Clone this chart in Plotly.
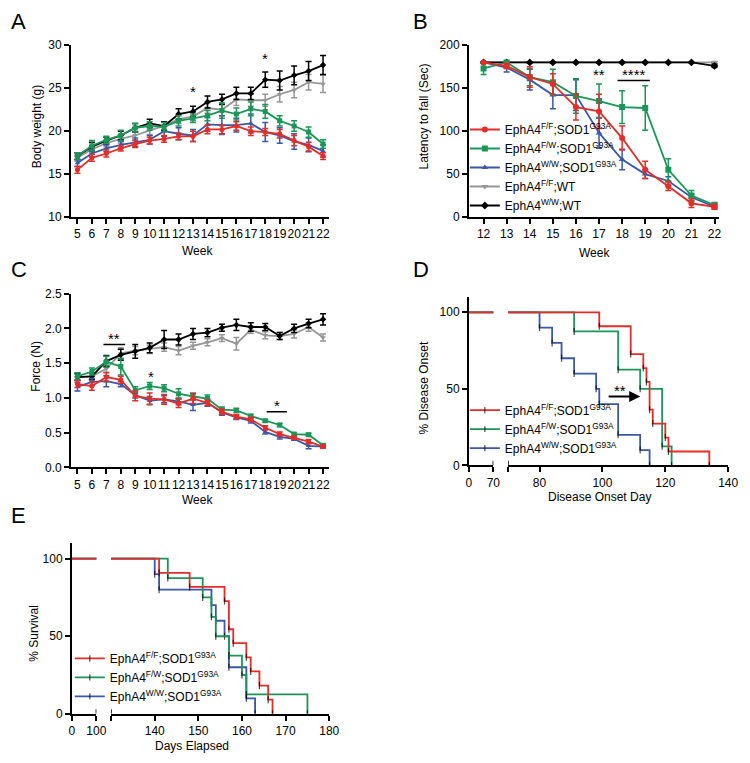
import plotly.graph_objects as go

W, H = 750, 763

# ---------------- DATA ----------------
weeks_ac = list(range(5, 23))
weeks_b = list(range(12, 23))

name_ff = "EphA4<sup>F/F</sup>;SOD1<sup>G93A</sup>"
name_fw = "EphA4<sup>F/W</sup>;SOD1<sup>G93A</sup>"
name_ww = "EphA4<sup>W/W</sup>;SOD1<sup>G93A</sup>"
name_ff_wt = "EphA4<sup>F/F</sup>;WT"
name_ww_wt = "EphA4<sup>W/W</sup>;WT"

# Panel A - body weight (g)
bw_ff = [15.5, 16.9, 17.4, 18.0, 18.5, 18.9, 19.1, 19.4, 19.4, 20.2, 20.2, 20.6, 20.0, 19.9, 19.7, 18.9, 18.2, 17.1]
bw_ff_err = [0.4, 0.4, 0.4, 0.3, 0.4, 0.4, 0.4, 0.4, 0.6, 0.5, 0.5, 0.5, 0.5, 0.4, 0.5, 0.6, 0.5, 0.4]
bw_fw = [17.1, 18.3, 19.0, 19.5, 20.4, 20.6, 20.5, 21.2, 21.5, 21.8, 22.4, 22.0, 22.6, 22.3, 21.2, 20.6, 19.9, 18.5]
bw_fw_err = [0.4, 0.6, 0.4, 0.6, 0.5, 0.5, 0.5, 0.6, 0.5, 0.6, 0.9, 0.7, 0.8, 0.8, 0.6, 0.6, 0.6, 0.5]
bw_ww = [16.3, 17.4, 18.0, 18.4, 18.7, 19.0, 20.0, 19.7, 19.5, 20.8, 20.7, 20.7, 20.9, 19.9, 19.5, 18.8, 18.4, 17.7]
bw_ww_err = [0.4, 0.4, 0.4, 0.4, 0.5, 0.5, 0.6, 0.7, 0.7, 0.8, 1.1, 0.8, 1.1, 1.1, 0.9, 0.9, 0.8, 0.7]
bw_ff_wt = [16.9, 17.9, 18.6, 19.1, 19.5, 20.1, 20.6, 21.4, 21.7, 22.7, 22.5, 23.7, 23.6, 23.6, 24.3, 24.8, 25.7, 25.5]
bw_ff_wt_err = [0.4, 0.4, 0.4, 0.5, 0.5, 0.5, 0.5, 0.5, 0.5, 0.6, 0.7, 0.7, 0.7, 0.7, 0.9, 0.9, 0.9, 1.0]
bw_ww_wt = [17.1, 18.2, 18.9, 19.5, 20.4, 20.9, 20.6, 22.0, 22.3, 23.4, 23.7, 24.4, 24.4, 26.0, 25.9, 26.5, 27.0, 27.7]
bw_ww_wt_err = [0.4, 0.5, 0.4, 0.5, 0.5, 0.5, 0.5, 0.6, 0.6, 0.7, 0.6, 0.7, 0.7, 0.9, 1.1, 1.1, 1.1, 1.1]

# Panel B - latency to fall (sec)
lat_ff = [180, 176, 163, 155, 128, 123, 92, 55, 36, 16, 12]
lat_ff_err = [0, 3, 12, 12, 15, 20, 14, 10, 5, 5, 3]
lat_fw = [173, 180, 163, 157, 141, 135, 128, 127, 55, 25, 14]
lat_fw_err = [7, 1, 10, 15, 20, 20, 19, 26, 13, 6, 3]
lat_ww = [180, 174, 160, 142, 142, 98, 67, 50, 42, 23, 12]
lat_ww_err = [0, 5, 12, 16, 18, 18, 12, 5, 5, 4, 3]
lat_ff_wt = [180, 180, 180, 180, 180, 180, 180, 180, 180, 180, 180]
lat_ff_wt_err = [0, 0, 0, 0, 0, 0, 0, 0, 0, 0, 1]
lat_ww_wt = [180, 180, 180, 180, 180, 180, 180, 180, 180, 180, 176]
lat_ww_wt_err = [0, 0, 0, 0, 0, 0, 0, 0, 0, 0, 2]

# Panel C - grip force (N)
f_ff = [1.20, 1.17, 1.30, 1.26, 1.03, 0.99, 0.98, 0.92, 0.99, 0.93, 0.80, 0.73, 0.69, 0.57, 0.48, 0.43, 0.37, 0.30]
f_ff_err = [0.05, 0.06, 0.06, 0.05, 0.07, 0.08, 0.07, 0.06, 0.07, 0.04, 0.04, 0.03, 0.03, 0.03, 0.03, 0.02, 0.03, 0.02]
f_fw = [1.31, 1.38, 1.52, 1.45, 1.11, 1.17, 1.14, 1.06, 1.02, 0.99, 0.83, 0.82, 0.74, 0.67, 0.61, 0.48, 0.47, 0.32]
f_fw_err = [0.05, 0.05, 0.08, 0.12, 0.05, 0.05, 0.05, 0.07, 0.05, 0.05, 0.04, 0.03, 0.02, 0.02, 0.02, 0.02, 0.02, 0.02]
f_ww = [1.16, 1.23, 1.24, 1.20, 1.04, 0.96, 0.98, 0.95, 0.90, 0.93, 0.79, 0.72, 0.67, 0.51, 0.44, 0.41, 0.31, 0.30]
f_ww_err = [0.06, 0.05, 0.08, 0.04, 0.04, 0.06, 0.05, 0.05, 0.08, 0.05, 0.04, 0.03, 0.03, 0.03, 0.03, 0.02, 0.04, 0.02]
f_ff_wt = [1.30, 1.31, 1.42, 1.64, 1.68, 1.70, 1.73, 1.68, 1.75, 1.80, 1.86, 1.78, 1.98, 1.90, 1.89, 1.92, 2.02, 1.87]
f_ff_wt_err = [0.04, 0.05, 0.05, 0.08, 0.06, 0.06, 0.06, 0.06, 0.05, 0.05, 0.05, 0.09, 0.05, 0.05, 0.05, 0.06, 0.06, 0.05]
f_ww_wt = [1.30, 1.31, 1.53, 1.62, 1.67, 1.72, 1.84, 1.84, 1.92, 1.94, 2.01, 2.05, 2.02, 2.02, 1.89, 2.00, 2.07, 2.13]
f_ww_wt_err = [0.05, 0.05, 0.08, 0.08, 0.10, 0.07, 0.13, 0.08, 0.08, 0.06, 0.05, 0.08, 0.06, 0.05, 0.05, 0.06, 0.06, 0.08]

# Panel D - disease onset (% without onset)
onset_ff_day = [0, 99, 109, 113, 114, 115, 116, 120, 121, 134]
onset_ff_pct = [100, 90.9, 72.7, 63.6, 54.5, 36.4, 27.3, 18.2, 9.1, 0]
onset_fw_day = [0, 91, 105, 112, 119, 122]
onset_fw_pct = [100, 87.5, 62.5, 50, 12.5, 0]
onset_ww_day = [0, 80, 84, 87, 91, 98, 99, 105, 112, 115]
onset_ww_pct = [100, 90, 80, 70, 60, 50, 40, 20, 10, 0]

# Panel E - survival (%)
surv_ff_day = [0, 141, 148, 156, 157, 158, 161, 162, 164, 166, 167]
surv_ff_pct = [100, 90.9, 81.8, 72.7, 54.5, 45.5, 36.4, 27.3, 18.2, 9.1, 0]
surv_fw_day = [0, 143, 151, 153, 154, 157, 160, 161, 175]
surv_fw_pct = [100, 87.5, 75, 62.5, 50, 37.5, 25, 12.5, 0]
surv_ww_day = [0, 140, 141, 153, 154, 156, 157, 161, 163]
surv_ww_pct = [100, 90, 80, 70, 60, 50, 30, 10, 0]

# ---------------- STYLE ----------------
RED = "rgb(228,45,40)"
GREEN = "rgb(28,150,88)"
BLUE = "rgb(58,88,168)"
GRAY = "rgb(150,150,150)"
BLACK = "rgb(0,0,0)"
FONT = "Liberation Sans, Arial, Helvetica, sans-serif"


def xd(a, b):
    return [a / W, b / W]


def yd(top, bottom):
    return [1 - bottom / H, 1 - top / H]


fig = go.Figure()

# draw order: gray, black, blue, green, red
groups_ac = [
    ("ffwt", name_ff_wt, GRAY, "triangle-down", 4),
    ("wwwt", name_ww_wt, BLACK, "diamond", 5),
    ("ww", name_ww, BLUE, "triangle-up", 3),
    ("fw", name_fw, GREEN, "square", 2),
    ("ff", name_ff, RED, "circle", 1),
]
A_vals = {"ff": (bw_ff, bw_ff_err), "fw": (bw_fw, bw_fw_err), "ww": (bw_ww, bw_ww_err),
          "ffwt": (bw_ff_wt, bw_ff_wt_err), "wwwt": (bw_ww_wt, bw_ww_wt_err)}
B_vals = {"ff": (lat_ff, lat_ff_err), "fw": (lat_fw, lat_fw_err), "ww": (lat_ww, lat_ww_err),
          "ffwt": (lat_ff_wt, lat_ff_wt_err), "wwwt": (lat_ww_wt, lat_ww_wt_err)}
C_vals = {"ff": (f_ff, f_ff_err), "fw": (f_fw, f_fw_err), "ww": (f_ww, f_ww_err),
          "ffwt": (f_ff_wt, f_ff_wt_err), "wwwt": (f_ww_wt, f_ww_wt_err)}

for key, nm, col, sym, rank in groups_ac:
    for vals, xs, xa, ya, show, msize in [
        (A_vals, weeks_ac, "x", "y", False, 5),
        (B_vals, weeks_b, "x2", "y2", True, 6),
        (C_vals, weeks_ac, "x3", "y3", False, 5),
    ]:
        v, e = vals[key]
        fig.add_trace(go.Scatter(
            x=xs, y=v, xaxis=xa, yaxis=ya, name=nm, mode="lines+markers",
            line=dict(color=col, width=1.8),
            marker=dict(symbol=sym, size=msize, color=col),
            error_y=dict(type="data", array=e, visible=True, color=col, thickness=1.5, width=3),
            showlegend=show, legend="legend", legendrank=rank,
        ))

# Kaplan-Meier panels
km_groups = [
    (name_ww, BLUE, 3, onset_ww_day, onset_ww_pct, surv_ww_day, surv_ww_pct),
    (name_fw, GREEN, 2, onset_fw_day, onset_fw_pct, surv_fw_day, surv_fw_pct),
    (name_ff, RED, 1, onset_ff_day, onset_ff_pct, surv_ff_day, surv_ff_pct),
]
for nm, col, rank, od, op, sd, sp in km_groups:
    for days, pct, xa_list, ya, lg in [(od, op, ["x4", "x5"], "y4", "legend2"),
                                       (sd, sp, ["x6", "x7"], "y5", "legend3")]:
        for i, xa in enumerate(xa_list):
            fig.add_trace(go.Scatter(
                x=days, y=pct, xaxis=xa, yaxis=ya, name=nm, mode="lines+markers",
                line=dict(color=col, width=1.8, shape="hv"),
                marker=dict(symbol="line-ns", size=[0] + [5] * (len(days) - 1),
                            line=dict(color="black", width=1.2)),
                showlegend=(i == 1), legend=lg, legendrank=rank,
            ))

axis_common = dict(showline=True, linecolor="black", linewidth=1.5, ticks="outside",
                   ticklen=5, tickwidth=1.5, tickcolor="black", showgrid=False,
                   zeroline=False, tickfont=dict(size=12, color="black", family=FONT),
                   tickangle=0, fixedrange=True)

fig.update_layout(
    width=W, height=H, margin=dict(l=0, r=0, t=0, b=0),
    paper_bgcolor="white", plot_bgcolor="white",
    font=dict(family=FONT, color="black", size=12),
    xaxis=dict(domain=xd(69, 332), range=[4.54, 22.43], tickvals=weeks_ac, anchor="y", **axis_common),
    yaxis=dict(domain=yd(39, 214), range=[10, 30], tickvals=[10, 15, 20, 25, 30], anchor="x", **axis_common),
    xaxis2=dict(domain=xd(474, 729), range=[11.36, 22.21], tickvals=weeks_b, anchor="y2", **axis_common),
    yaxis2=dict(domain=yd(39, 214), range=[0, 200], tickvals=[0, 50, 100, 150, 200], anchor="x2", **axis_common),
    xaxis3=dict(domain=xd(69, 332), range=[4.54, 22.43], tickvals=weeks_ac, anchor="y3", **axis_common),
    yaxis3=dict(domain=yd(292, 469), range=[0, 2.5], tickvals=[0, 0.5, 1.0, 1.5, 2.0, 2.5],
                tickformat=".1f", anchor="x3", **axis_common),
    xaxis4=dict(domain=xd(474, 499), range=[0, 70], tickvals=[0, 70], anchor="y4", **axis_common),
    xaxis5=dict(domain=xd(514, 738), range=[70, 140], tickvals=[70, 80, 100, 120, 140],
                ticktext=["", "80", "100", "120", "140"], anchor="y4", **axis_common),
    yaxis4=dict(domain=yd(467 - 110 * 1.56, 467), range=[0, 110], tickvals=[0, 50, 100], anchor="x4", **axis_common),
    xaxis6=dict(domain=xd(70, 95), range=[0, 100], tickvals=[0, 100], anchor="y5", **axis_common),
    xaxis7=dict(domain=xd(110, 332), range=[130, 180], tickvals=[130, 140, 150, 160, 170, 180],
                ticktext=["", "140", "150", "160", "170", "180"], anchor="y5", **axis_common),
    yaxis5=dict(domain=yd(720 - 110 * 1.58, 720), range=[0, 110], tickvals=[0, 50, 100], anchor="x6", **axis_common),
    legend=dict(x=470 / W, y=1 - 110 / H, xanchor="left", yanchor="top", bgcolor="rgba(0,0,0,0)",
                font=dict(size=12, family=FONT), traceorder="normal"),
    legend2=dict(x=470 / W, y=1 - 430 / H, xanchor="left", yanchor="middle", bgcolor="rgba(0,0,0,0)",
                 font=dict(size=12, family=FONT), traceorder="normal"),
    legend3=dict(x=68 / W, y=1 - 683 / H, xanchor="left", yanchor="middle", bgcolor="rgba(0,0,0,0)",
                 font=dict(size=12, family=FONT), traceorder="normal"),
    showlegend=True,
)

# axis break markers
for xa, xv, ya in [("x4", 70, "y4"), ("x5", 70, "y4"), ("x6", 100, "y5"), ("x7", 130, "y5")]:
    fig.add_shape(type="line", xref=xa, yref=ya, x0=xv, x1=xv, y0=0, y1=3,
                  line=dict(color="black", width=1.5))

# significance bars
fig.add_shape(type="line", xref="x2", yref="y2", x0=17.8, x1=19.2, y0=159, y1=159, line=dict(color="black", width=1.5))
fig.add_shape(type="line", xref="x3", yref="y3", x0=6.8, x1=8.3, y0=1.77, y1=1.77, line=dict(color="black", width=1.5))
fig.add_shape(type="line", xref="x3", yref="y3", x0=18.1, x1=19.5, y0=0.80, y1=0.80, line=dict(color="black", width=1.5))

ann = []


def paper_text(txt, px, py, size=12, angle=0):
    ann.append(dict(text=txt, x=px / W, y=1 - py / H, xref="paper", yref="paper", showarrow=False,
                    font=dict(size=size, family=FONT, color="black"), textangle=angle,
                    xanchor="center", yanchor="middle"))


def data_text(txt, xa, ya, x, y, size=15):
    ann.append(dict(text=txt, x=x, y=y, xref=xa, yref=ya, showarrow=False,
                    font=dict(size=size, family=FONT, color="black"), xanchor="center", yanchor="middle"))


# panel letters
paper_text("A", 16, 15, 22)
paper_text("B", 425, 15, 22)
paper_text("C", 16, 267, 22)
paper_text("D", 425, 267, 22)
paper_text("E", 16, 518, 22)

# axis titles
paper_text("Body weight (g)", 34, 122, 12, -90)
paper_text("Week", 198, 249, 12)
paper_text("Latency to fall (Sec)", 428, 112, 12, -90)
paper_text("Week", 602, 251, 12)
paper_text("Force (N)", 34, 366, 12, -90)
paper_text("Week", 198, 502, 12)
paper_text("% Disease Onset", 428, 388, 12, -90)
paper_text("Disease Onset Day", 607, 499, 12)
paper_text("% Survival", 32, 638, 12, -90)
paper_text("Days Elapsed", 192, 753, 12)

# asterisks
data_text("*", "x", "y", 13, 24.6)
data_text("*", "x", "y", 18, 28.5)
data_text("**", "x2", "y2", 17, 166)
data_text("****", "x2", "y2", 18.5, 166)
data_text("**", "x3", "y3", 7.55, 1.86)
data_text("*", "x3", "y3", 10.1, 1.31)
data_text("*", "x3", "y3", 18.8, 0.89)
data_text("**", "x5", "y4", 105.5, 49)

# arrow in D
ann.append(dict(x=112, y=45, xref="x5", yref="y4", ax=101.5, ay=45, axref="x5", ayref="y4",
                showarrow=True, arrowhead=2, arrowsize=1.1, arrowwidth=2, arrowcolor="black", text=""))

fig.update_layout(annotations=ann)

fig.write_html("out.html", config={"displayModeBar": False},
               post_script="document.body.style.margin='0px';document.body.style.overflow='hidden';")
